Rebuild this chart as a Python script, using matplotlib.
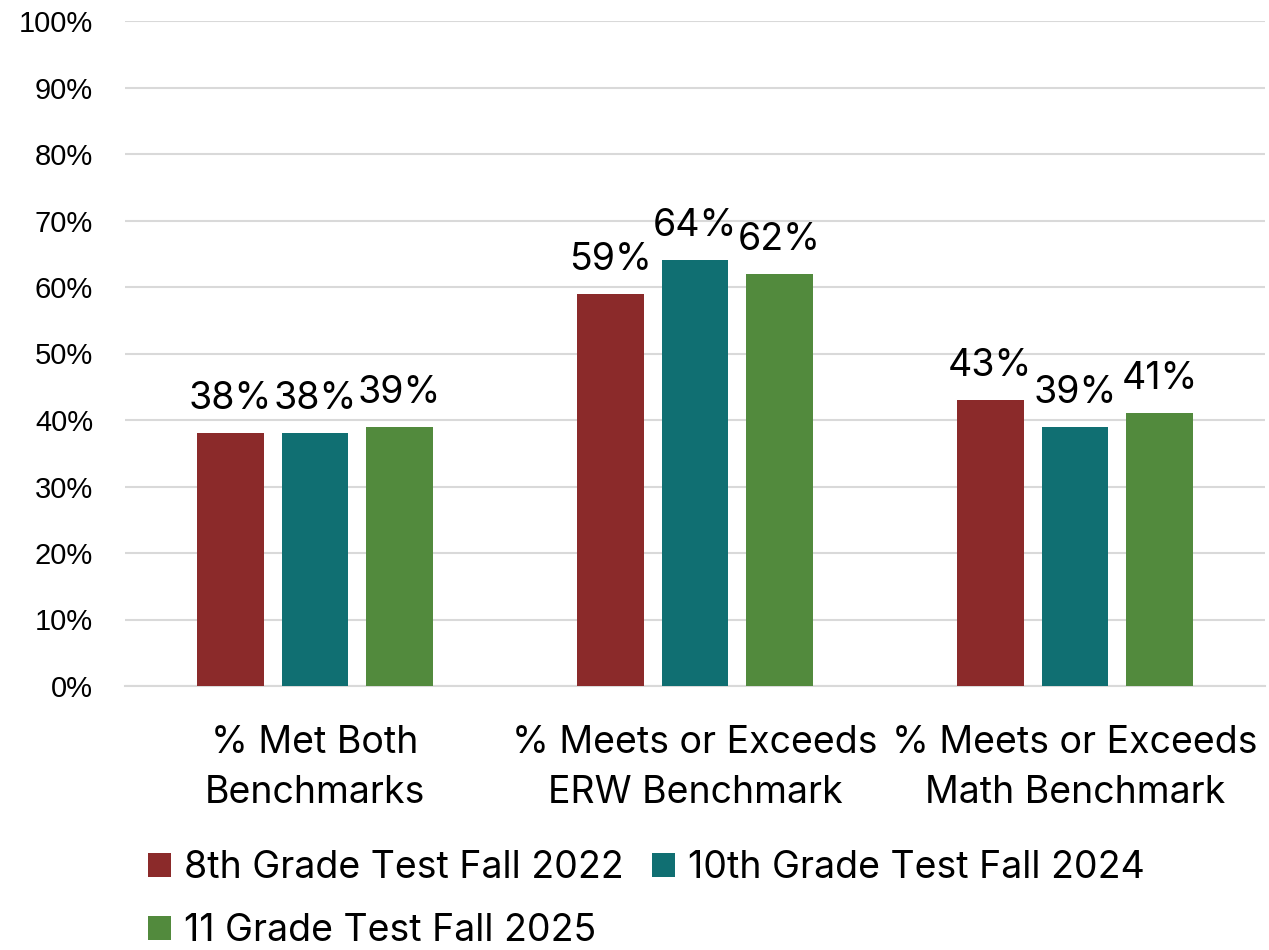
import matplotlib
matplotlib.use("Agg")
import matplotlib.pyplot as plt
import numpy as np
from matplotlib.patches import Patch

categories = ["% Met Both\nBenchmarks", "% Meets or Exceeds\nERW Benchmark", "% Meets or Exceeds\nMath Benchmark"]
series_names = ["8th Grade Test Fall 2022", "10th Grade Test Fall 2024", "11 Grade Test Fall 2025"]
grade8 = [38, 59, 43]
grade10 = [38, 64, 39]
grade11 = [39, 62, 41]
colors = ["#8B2A2A", "#106F72", "#528A3D"]
yticks = [0, 10, 20, 30, 40, 50, 60, 70, 80, 90, 100]

fig = plt.figure(figsize=(12.69, 9.5), dpi=100)
ax = fig.add_axes([125/1269, 264/950, 1140/1269, 665/950])

x = np.arange(len(categories))
width = 0.175
offset = 0.223
label_font = "Inter"
for i, (vals, c) in enumerate(zip([grade8, grade10, grade11], colors)):
    pos = x + (i - 1) * offset
    ax.bar(pos, vals, width, color=c, zorder=3)
    for p, v in zip(pos, vals):
        ax.text(p, v + 2.4, f"{v}%", ha="center", va="bottom", fontsize=27,
                family=label_font, color="black")

ax.set_xlim(-0.5, 2.5)
ax.set_ylim(0, 100)
ax.set_yticks(yticks)
ax.set_yticklabels([f"{t}%" for t in yticks], fontsize=21, family="Liberation Sans")
ax.yaxis.grid(True, color="#D9D9D9", linewidth=1.5, zorder=0)
ax.set_axisbelow(True)
for s in ["top", "right", "left"]:
    ax.spines[s].set_visible(False)
ax.spines["bottom"].set_color("#D9D9D9")
ax.spines["bottom"].set_linewidth(1.5)
ax.tick_params(axis="y", length=0, pad=23)
ax.tick_params(axis="x", length=0, pad=28)
ax.set_xticks(x)
ax.set_xticklabels(categories, fontsize=27, family=label_font, linespacing=1.5)

handles = [Patch(facecolor=c, edgecolor="none") for c in colors]
order = [0, 2, 1]
fig.legend([handles[k] for k in order], [series_names[k] for k in order],
           loc="upper left", bbox_to_anchor=(148/1269, 1 - 850/950),
           ncol=2, frameon=False, prop={"family": label_font, "size": 27},
           handlelength=0.62, handleheight=0.62, handletextpad=0.35, columnspacing=0.75,
           labelspacing=0.72, borderaxespad=0, borderpad=0)

fig.savefig("out.png", dpi=100, facecolor="white")
